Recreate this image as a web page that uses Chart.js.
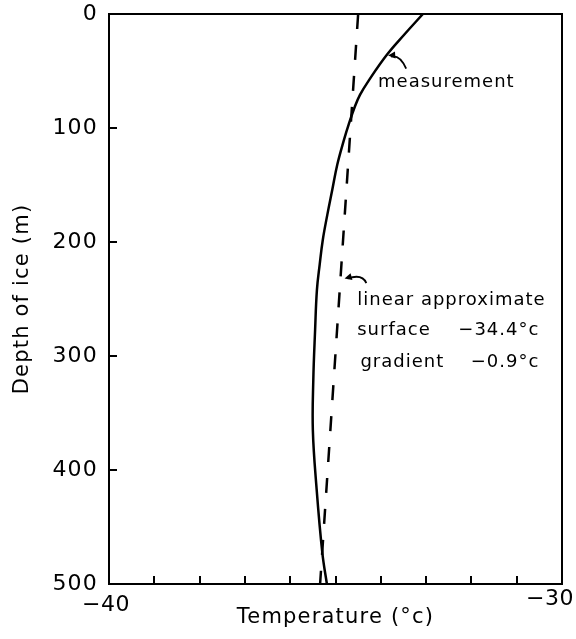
<!DOCTYPE html>
<html>
<head>
<meta charset="utf-8">
<script src="https://cdn.jsdelivr.net/npm/chart.js@4"></script>
<style>
  html, body { margin: 0; padding: 0; background: #fff; }
  #wrap { width: 576px; height: 639px; }
</style>
</head>
<body>
<div id="wrap"><canvas id="c" width="576" height="639"></canvas></div>
<script>
// ---- data ----
const measurementDepth = [0, 18, 36, 58, 71, 82, 97, 110, 132, 154, 176, 198, 220, 242, 277, 321, 365, 415, 473, 500];
const measurementTemp  = [-33.07, -33.48, -33.87, -34.26, -34.46, -34.58, -34.71, -34.81, -34.96, -35.07, -35.18, -35.28, -35.35, -35.41, -35.45, -35.49, -35.50, -35.42, -35.29, -35.19];
const linearDepth = [0, 500];
const linearTemp  = [-34.5, -35.34];
const xMin = -40, xMax = -30, xStep = 1;
const yMin = 0, yMax = 500, yStep = 100;
const xTickLabels = ['\u221240', '\u221230'];
const xTickValues = [-40, -30];
const xTitle = 'Temperature (\u00b0c)';
const yTitle = 'Depth of ice (m)';
const labelMeasurement = 'measurement';
const labelLinear = 'linear approximate';
const labelSurface = ['surface', '\u221234.4\u00b0c'];
const labelGradient = ['gradient', '\u22120.9\u00b0c'];

const FONT = '"DejaVu Sans", sans-serif';

const toPts = (xs, ys) => xs.map((v, i) => ({ x: v, y: ys[i] }));

function arrowHead(ctx, x, y, ang, len) {
  ctx.beginPath();
  ctx.moveTo(x, y);
  ctx.lineTo(x - len * Math.cos(ang - 0.45), y - len * Math.sin(ang - 0.45));
  ctx.lineTo(x - len * Math.cos(ang + 0.45), y - len * Math.sin(ang + 0.45));
  ctx.closePath();
  ctx.fill();
}

const decor = {
  id: 'decor',
  beforeDraw(chart) { chart.ctx.letterSpacing = '1.2px'; },
  afterDraw(chart) {
    const { ctx, chartArea: a, scales: { x, y } } = chart;
    ctx.save();
    ctx.strokeStyle = '#000';
    ctx.fillStyle = '#000';
    ctx.lineWidth = 2;
    ctx.strokeRect(a.left, a.top, a.right - a.left, a.bottom - a.top);
    // inward ticks
    ctx.beginPath();
    for (let v = xMin + xStep; v < xMax; v += xStep) {
      const px = Math.round(x.getPixelForValue(v));
      ctx.moveTo(px, a.bottom); ctx.lineTo(px, a.bottom - 8);
    }
    for (let v = yMin + yStep; v < yMax; v += yStep) {
      const py = Math.round(y.getPixelForValue(v));
      ctx.moveTo(a.left, py); ctx.lineTo(a.left + 8, py);
    }
    ctx.stroke();

    // x tick labels
    ctx.font = '22px ' + FONT;
    ctx.letterSpacing = '0.5px';
    ctx.textBaseline = 'middle';
    ctx.textAlign = 'center';
    ctx.fillText(xTickLabels[0], x.getPixelForValue(xTickValues[0]) - 3, a.bottom + 21);
    ctx.fillText(xTickLabels[1], x.getPixelForValue(xTickValues[1]) - 12, a.bottom + 15);

    // annotations
    ctx.textBaseline = 'alphabetic';
    ctx.textAlign = 'left';
    ctx.font = '18px ' + FONT;
    ctx.letterSpacing = '1px';
    ctx.fillText(labelMeasurement, x.getPixelForValue(-34.06), y.getPixelForValue(64));
    ctx.fillText(labelLinear, x.getPixelForValue(-34.52), y.getPixelForValue(255));
    ctx.fillText(labelSurface[0], x.getPixelForValue(-34.52), y.getPixelForValue(282));
    ctx.fillText(labelGradient[0], x.getPixelForValue(-34.45), y.getPixelForValue(310));
    ctx.textAlign = 'right';
    ctx.fillText(labelSurface[1], x.getPixelForValue(-30.5), y.getPixelForValue(282));
    ctx.fillText(labelGradient[1], x.getPixelForValue(-30.5), y.getPixelForValue(310));

    // arrows
    ctx.lineWidth = 1.8;
    let sx = x.getPixelForValue(-33.44), sy = y.getPixelForValue(48);
    let ex = x.getPixelForValue(-33.84), ey = y.getPixelForValue(36.5);
    let cx = sx - 6, cy = ey - 1;
    ctx.beginPath(); ctx.moveTo(sx, sy); ctx.quadraticCurveTo(cx, cy, ex + 3, ey + 1); ctx.stroke();
    arrowHead(ctx, ex, ey, Math.atan2(ey - cy, ex - cx), 8);
    sx = x.getPixelForValue(-34.32); sy = y.getPixelForValue(236);
    ex = x.getPixelForValue(-34.8); ey = y.getPixelForValue(232);
    cx = sx - 4; cy = ey - 5;
    ctx.beginPath(); ctx.moveTo(sx, sy); ctx.quadraticCurveTo(cx, cy, ex + 3, ey); ctx.stroke();
    arrowHead(ctx, ex, ey, Math.atan2(ey - cy, ex - cx), 8);
    ctx.restore();
  }
};

new Chart(document.getElementById('c'), {
  type: 'line',
  data: {
    datasets: [
      {
        label: 'measurement',
        data: toPts(measurementTemp, measurementDepth),
        borderColor: '#000',
        borderWidth: 2.5,
        pointRadius: 0,
        fill: false,
        tension: 0.4
      },
      {
        label: 'linear approximate',
        data: toPts(linearTemp, linearDepth),
        borderColor: '#000',
        borderWidth: 2.5,
        borderDash: [15, 16],
        pointRadius: 0,
        fill: false,
        tension: 0
      }
    ]
  },
  options: {
    indexAxis: 'y',
    responsive: false,
    animation: false,
    events: [],
    layout: { padding: { top: 14, right: 14, left: 0, bottom: 0 } },
    plugins: { legend: { display: false }, tooltip: { enabled: false } },
    scales: {
      x: {
        type: 'linear',
        position: 'bottom',
        min: xMin, max: xMax,
        ticks: { display: false, stepSize: xStep },
        grid: { display: false, drawTicks: false },
        border: { display: true, color: '#000', width: 2 },
        title: { display: true, text: xTitle, color: '#000', font: { family: FONT, size: 21 }, padding: { top: 0, bottom: 9 } },
        afterFit(s) { s.height = 55; s.paddingLeft = 0; s.paddingRight = 0; }
      },
      y: {
        type: 'linear',
        position: 'left',
        reverse: true,
        min: yMin, max: yMax,
        ticks: { stepSize: yStep, color: '#000', font: { family: FONT, size: 22 }, padding: 11 },
        grid: { display: false, drawTicks: false },
        border: { display: true, color: '#000', width: 2 },
        title: { display: true, text: yTitle, color: '#000', font: { family: FONT, size: 21 }, padding: { top: 10, bottom: 0 } },
        afterFit(s) { s.width = 109; s.paddingTop = 0; s.paddingBottom = 0; }
      }
    }
  },
  plugins: [decor]
});
</script>
</body>
</html>
